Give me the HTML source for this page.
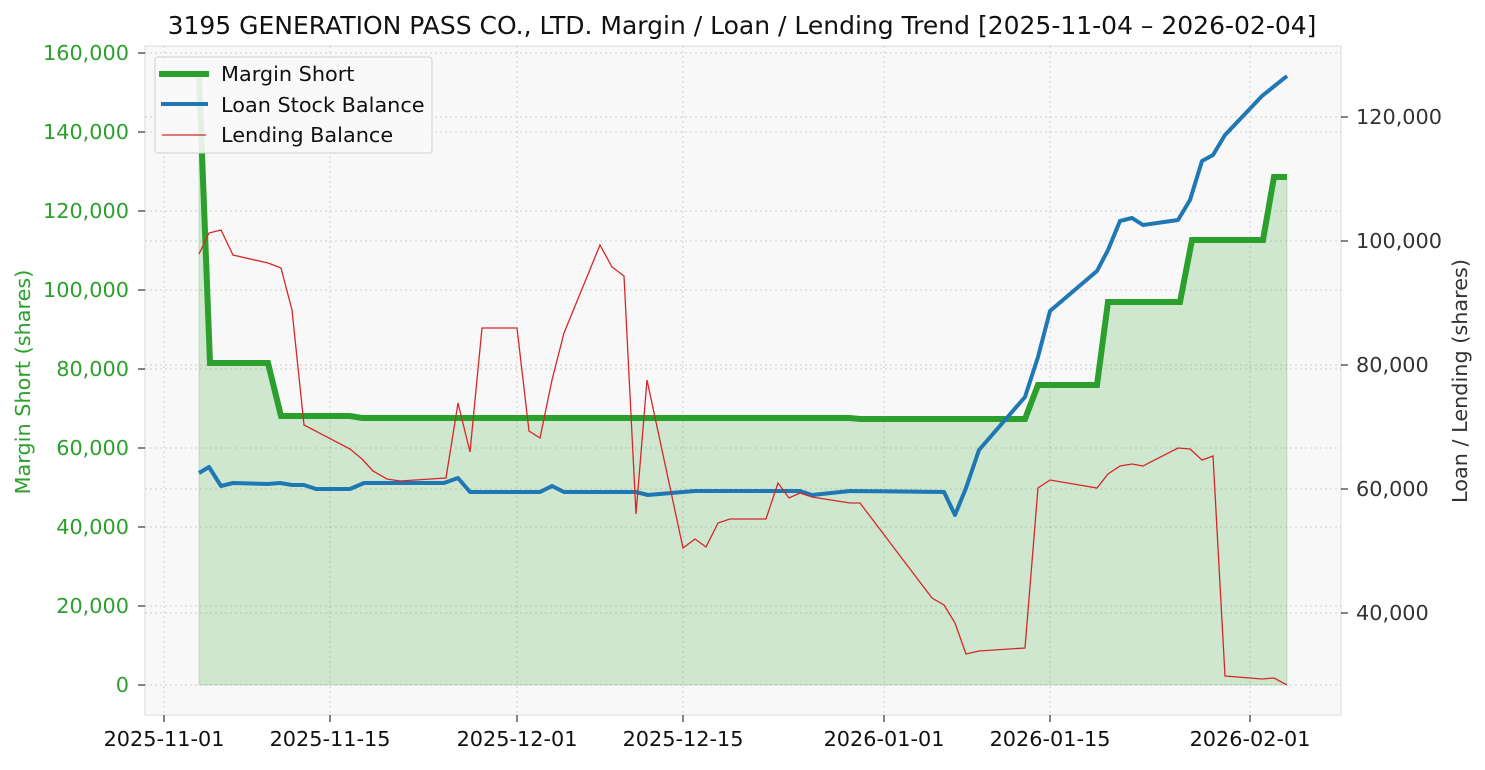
<!DOCTYPE html>
<html><head><meta charset="utf-8"><style>
body{margin:0;background:#fff;}
svg text{font-family:"DejaVu Sans","Liberation Sans",sans-serif;}
</style></head><body>
<svg width="1485" height="765" viewBox="0 0 1485 765" xmlns="http://www.w3.org/2000/svg">
<rect x="0" y="0" width="1485" height="765" fill="#fff"/>
<rect x="145" y="46" width="1196" height="669" fill="#f8f8f8" stroke="#e6e6e6" stroke-width="1.5"/>
<g stroke="#d0d0d0" stroke-width="1" stroke-dasharray="2,3">
<line x1="164" y1="46" x2="164" y2="715"/><line x1="330" y1="46" x2="330" y2="715"/>
<line x1="517" y1="46" x2="517" y2="715"/><line x1="683" y1="46" x2="683" y2="715"/>
<line x1="884" y1="46" x2="884" y2="715"/><line x1="1050" y1="46" x2="1050" y2="715"/>
<line x1="1250" y1="46" x2="1250" y2="715"/>
<line x1="145" y1="685" x2="1341" y2="685"/><line x1="145" y1="606" x2="1341" y2="606"/>
<line x1="145" y1="527" x2="1341" y2="527"/><line x1="145" y1="448" x2="1341" y2="448"/>
<line x1="145" y1="369" x2="1341" y2="369"/><line x1="145" y1="290" x2="1341" y2="290"/>
<line x1="145" y1="211" x2="1341" y2="211"/><line x1="145" y1="132" x2="1341" y2="132"/>
<line x1="145" y1="53" x2="1341" y2="53"/>
<line x1="145" y1="117" x2="1341" y2="117"/><line x1="145" y1="241" x2="1341" y2="241"/>
<line x1="145" y1="365" x2="1341" y2="365"/><line x1="145" y1="489" x2="1341" y2="489"/>
<line x1="145" y1="613" x2="1341" y2="613"/>
</g>
<polygon fill="#2ca02c" fill-opacity="0.2" stroke="#2ca02c" stroke-opacity="0.2" points="199,685 199,75 210,363 268,363 281,416 350,416 362,418 850,418 860,419 1025,419 1038,385 1097,385 1108,302 1180,302 1192,240 1263,240 1274,177 1287,177 1287,685"/>
<polyline fill="none" stroke="#2ca02c" stroke-width="6" points="199,75 210,363 268,363 281,416 350,416 362,418 850,418 860,419 1025,419 1038,385 1097,385 1108,302 1180,302 1192,240 1263,240 1274,177 1287,177"/>
<polyline fill="none" stroke="#1f77b4" stroke-width="4" stroke-linejoin="round" points="199,473 209,467 221,486 233,483 268,484 280,483 292,485 304,485 316,489 350,489 364,483 444,483 458,478 470,492 540,492 552,486 564,492 636,492 648,495 683,492 695,491 800,491 812,495 850,491 944,492 955,515 966,488 979,450 1025,397 1038,357 1050,311 1097,271 1108,250 1120,221 1132,218 1143,225 1178,220 1190,200 1202,161 1213,155 1225,135 1262,96 1287,76"/>
<polyline fill="none" stroke="#d62728" stroke-width="1.3" points="199,254 209,233 221,230 233,255 268,263 281,268 292,310 304,425 350,449 362,459 373,471 387,479 400,481 446,478 458,403 470,452 482,328 517,328 529,431 540,438 552,380 564,333 600,245 612,267 624,276 636,514 647,380 683,548 695,539 706,547 718,523 730,519 766,519 778,483 789,498 800,493 812,497 850,503 860,503 932,598 944,605 955,623 966,654 979,651 1025,648 1038,488 1050,480 1097,488 1108,474 1120,466 1132,464 1143,466 1178,448 1190,449 1202,460 1213,456 1225,676 1262,679 1274,678 1287,685"/>
<g font-size="20.8" fill="#2ca02c" text-anchor="end">
<text x="129" y="692">0</text><text x="129" y="613">20,000</text><text x="129" y="534">40,000</text>
<text x="129" y="455">60,000</text><text x="129" y="376">80,000</text><text x="129" y="297">100,000</text>
<text x="129" y="218">120,000</text><text x="129" y="139">140,000</text><text x="129" y="60">160,000</text>
</g>
<g stroke="#333" stroke-width="1.2">
<line x1="138" y1="685" x2="145" y2="685"/><line x1="138" y1="606" x2="145" y2="606"/><line x1="138" y1="527" x2="145" y2="527"/><line x1="138" y1="448" x2="145" y2="448"/><line x1="138" y1="369" x2="145" y2="369"/><line x1="138" y1="290" x2="145" y2="290"/><line x1="138" y1="211" x2="145" y2="211"/><line x1="138" y1="132" x2="145" y2="132"/><line x1="138" y1="53" x2="145" y2="53"/>
<line x1="1341" y1="117" x2="1348" y2="117"/><line x1="1341" y1="241" x2="1348" y2="241"/><line x1="1341" y1="365" x2="1348" y2="365"/><line x1="1341" y1="489" x2="1348" y2="489"/><line x1="1341" y1="613" x2="1348" y2="613"/>
<line x1="164" y1="715" x2="164" y2="722"/><line x1="330" y1="715" x2="330" y2="722"/><line x1="517" y1="715" x2="517" y2="722"/><line x1="683" y1="715" x2="683" y2="722"/><line x1="884" y1="715" x2="884" y2="722"/><line x1="1050" y1="715" x2="1050" y2="722"/><line x1="1250" y1="715" x2="1250" y2="722"/>
</g>
<g font-size="20.8" fill="#333">
<text x="1356" y="124">120,000</text><text x="1356" y="248">100,000</text><text x="1356" y="372">80,000</text>
<text x="1356" y="496">60,000</text><text x="1356" y="620">40,000</text>
</g>
<g font-size="20.8" fill="#111" text-anchor="middle">
<text x="164" y="746">2025-11-01</text><text x="330" y="746">2025-11-15</text><text x="517" y="746">2025-12-01</text>
<text x="683" y="746">2025-12-15</text><text x="884" y="746">2026-01-01</text><text x="1050" y="746">2026-01-15</text>
<text x="1250" y="746">2026-02-01</text>
</g>
<text x="742" y="34" font-size="25" text-anchor="middle" fill="#111">3195 GENERATION PASS CO., LTD. Margin / Loan / Lending Trend [2025-11-04 – 2026-02-04]</text>
<text transform="translate(30,382) rotate(-90)" font-size="20.8" text-anchor="middle" fill="#2ca02c">Margin Short (shares)</text>
<text transform="translate(1467,381) rotate(-90)" font-size="20.8" text-anchor="middle" fill="#333">Loan / Lending (shares)</text>
<rect x="155" y="57" width="277" height="96" rx="3" fill="#f8f8f8" fill-opacity="0.9" stroke="#d0d0d0"/>
<line x1="159" y1="74" x2="209" y2="74" stroke="#2ca02c" stroke-width="6"/>
<line x1="161" y1="104" x2="208" y2="104" stroke="#1f77b4" stroke-width="4"/>
<line x1="162" y1="135" x2="206" y2="135" stroke="#d62728" stroke-width="1.3"/>
<g font-size="20.8" fill="#111">
<text x="221" y="81">Margin Short</text><text x="221" y="112">Loan Stock Balance</text><text x="221" y="142">Lending Balance</text>
</g>
</svg>
</body></html>
